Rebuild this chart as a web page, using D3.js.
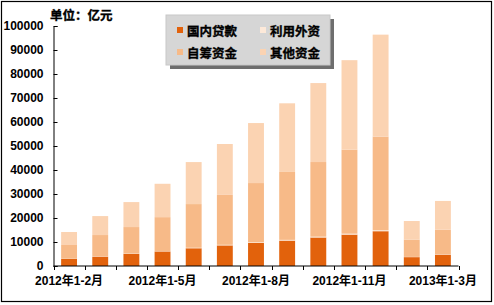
<!DOCTYPE html>
<html>
<head>
<meta charset="utf-8">
<script src="https://d3js.org/d3.v7.min.js"></script>
<style>
    html, body {
        margin: 0;
        padding: 0;
        background: #fff;
    }
    svg text {
        font-family: "Liberation Sans", Arial, "Noto Sans CJK SC", sans-serif;
        font-weight: bold;
        fill: #000;
    }
    svg text.cn {
        stroke: #000;
        stroke-width: 0.35px;
    }
</style>
</head>
<body>
<div id="chart"></div>
<script>
// periods (cumulative), unit: 亿元
var periods = ["2012年1-2月", "2012年1-3月", "2012年1-4月", "2012年1-5月", "2012年1-6月",
    "2012年1-7月", "2012年1-8月", "2012年1-9月", "2012年1-10月", "2012年1-11月",
    "2012年1-12月", "2013年1-2月", "2013年1-3月"];
var shownLabels = ["2012年1-2月", "2012年1-5月", "2012年1-8月", "2012年1-11月", "2013年1-3月"];

var domesticLoans = [3000, 3900, 5100, 6100, 7400, 8600, 9600, 10600, 11900, 13100, 14500, 3700, 4700];
var foreignCapital = [60, 100, 130, 160, 200, 230, 260, 290, 320, 360, 400, 90, 110];
var selfRaised = [5700, 8900, 11000, 14100, 18200, 20800, 24700, 28300, 31100, 35000, 39000, 7200, 10300];
var otherFunds = [5400, 7900, 10400, 13900, 17500, 21200, 25000, 28600, 32900, 37300, 42500, 7750, 12000];

var seriesNames = ["国内贷款", "利用外资", "自筹资金", "其他资金"];
var yTicks = [0, 10000, 20000, 30000, 40000, 50000, 60000, 70000, 80000, 90000, 100000];

var colors = ["#E2620C", "#FDE9D9", "#F7BA88", "#FBD3B2"];

var W = 494, H = 305;
var svg = d3.select("#chart").append("svg").attr("width", W).attr("height", H);

// outer frame
svg.append("rect").attr("x", 1.5).attr("y", 1.5).attr("width", 490).attr("height", 300)
    .attr("fill", "#fff").attr("stroke", "#000").attr("stroke-width", 1.2);

var rows = periods.map(function(p, i) {
    return {period: p, "国内贷款": domesticLoans[i], "利用外资": foreignCapital[i],
        "自筹资金": selfRaised[i], "其他资金": otherFunds[i]};
});
var stacked = d3.stack().keys(seriesNames)(rows);

var x = d3.scaleBand().domain(periods).range([53.5, 458.5]).paddingInner(0.49).paddingOuter(0.245);
var y = d3.scaleLinear().domain([0, 100000]).range([266, 26]);

// bars
svg.append("g").selectAll("g").data(stacked).enter().append("g")
    .attr("fill", function(d, i) { return colors[i]; })
    .selectAll("rect").data(function(d) { return d; }).enter().append("rect")
    .attr("x", function(d) { return x(d.data.period); })
    .attr("width", x.bandwidth())
    .attr("y", function(d) { return y(d[1]); })
    .attr("height", function(d) { return y(d[0]) - y(d[1]); });

// y axis, ticks pointing inward
var yAxis = svg.append("g").attr("transform", "translate(53.5,0)")
    .call(d3.axisRight(y).tickValues(yTicks).tickSize(4).tickFormat(d3.format("d")));
yAxis.select(".domain").attr("stroke", "#000");
yAxis.selectAll(".tick line").attr("stroke", "#000");
yAxis.selectAll("text").attr("x", -10).attr("text-anchor", "end")
    .style("font-size", "12px");

// x axis: baseline and boundary ticks
var step = x.step();
var boundaries = d3.range(periods.length + 1).map(function(i) { return 53.5 + i * step; });
var xg = svg.append("g");
xg.append("line").attr("x1", 53.5).attr("x2", 458.5).attr("y1", 266).attr("y2", 266)
    .attr("stroke", "#000");
xg.selectAll("line.tk").data(boundaries).enter().append("line").attr("class", "tk")
    .attr("x1", function(d) { return Math.round(d) + 0.5; })
    .attr("x2", function(d) { return Math.round(d) + 0.5; })
    .attr("y1", 266).attr("y2", 270).attr("stroke", "#000");
xg.selectAll("text").data(shownLabels).enter().append("text")
    .attr("x", function(d) { return x(d) + x.bandwidth() / 2; })
    .attr("y", 285)
    .attr("text-anchor", "middle")
    .style("font-size", "12px")
    .text(function(d) { return d; });

// unit label
svg.append("text").attr("class", "cn").attr("x", 50).attr("y", 20)
    .style("font-size", "12.5px").text("单位：亿元");

// legend
var lg = svg.append("g").attr("transform", "translate(166,15)");
lg.append("rect").attr("x", 4).attr("y", 4).attr("width", 164).attr("height", 50).attr("fill", "#6E6E6E");
lg.append("rect").attr("x", 0).attr("y", 0).attr("width", 164).attr("height", 50)
    .attr("fill", "#D6D6D6").attr("stroke", "#C8C8C8");
var legendPos = [[11, 16], [94, 16], [11, 38], [94, 38]];
seriesNames.forEach(function(name, i) {
    lg.append("rect").attr("x", legendPos[i][0]).attr("y", legendPos[i][1] - 4)
        .attr("width", 6).attr("height", 6).attr("fill", colors[i]);
    lg.append("text").attr("class", "cn").attr("x", legendPos[i][0] + 10).attr("y", legendPos[i][1] + 4.5)
        .style("font-size", "12.5px").text(name);
});
</script>
</body>
</html>
